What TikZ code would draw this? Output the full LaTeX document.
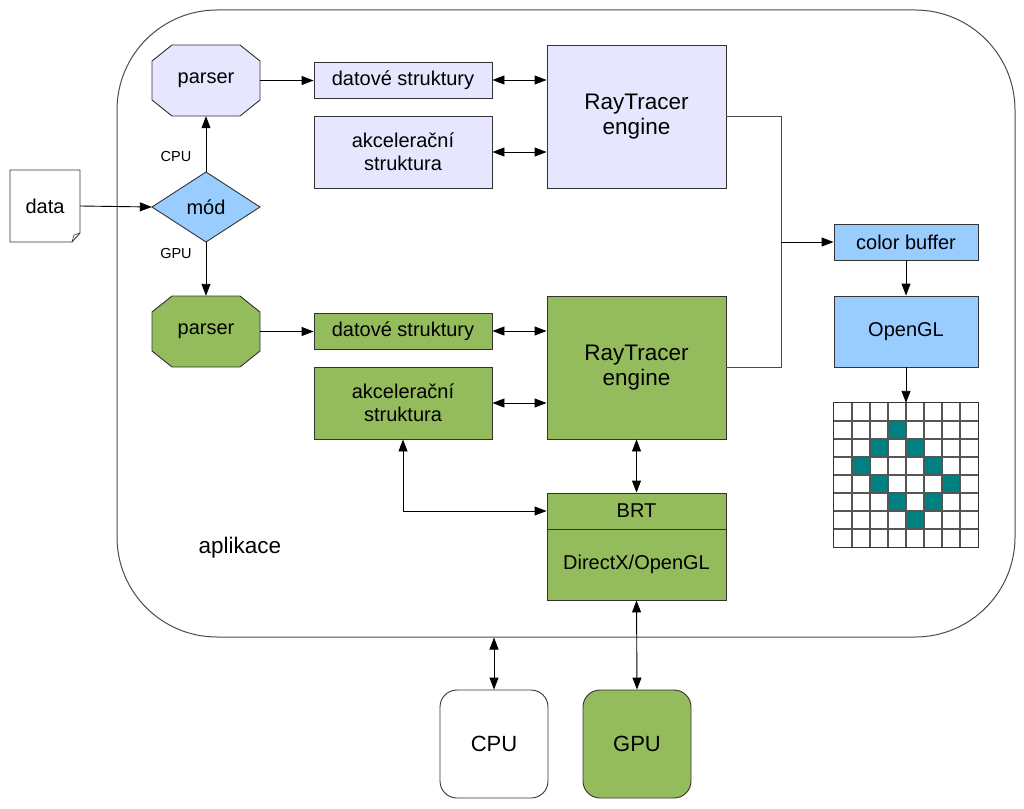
\documentclass[tikz,border=0pt]{standalone}
\usepackage{fontspec}
\setmainfont{Liberation Sans}
\usetikzlibrary{arrows.meta,calc}
\definecolor{lav}{HTML}{E6E6FF}
\definecolor{grn}{HTML}{94BC5C}
\definecolor{lblue}{HTML}{99CCFF}
\definecolor{tealc}{HTML}{008080}
\definecolor{edge}{HTML}{333333}
\definecolor{gline}{HTML}{555555}
\begin{document}
\begin{tikzpicture}[x=1pt,y=-1pt,
  box/.style={draw=edge, line width=0.9pt, inner sep=0pt, align=center, font=\fontsize{20}{23}\selectfont},
  bigbox/.style={box, font=\fontsize{22.5}{25}\selectfont},
  ghost/.style={inner sep=0pt, align=center, font=\fontsize{20}{23}\selectfont},
  shp/.style={draw=edge, line width=0.9pt},
  ln/.style={line width=0.9pt},
  arr/.style={line width=0.9pt, -{Triangle[length=12pt,width=9pt]}},
  darr/.style={line width=0.9pt, {Triangle[length=12pt,width=9pt]}-{Triangle[length=12pt,width=9pt]}},
  small/.style={inner sep=0pt, font=\fontsize{14.5}{16}\selectfont},
]
\useasboundingbox (0,0) rectangle (1024,808);
\fill[white] (0,0) rectangle (1024,808);

% application frame
\node[draw=black!70, line width=1pt, rounded corners=100pt, minimum width=898pt, minimum height=627pt, inner sep=0pt] (app) at (566,323.5) {};
\node[inner sep=0pt, font=\fontsize{22.5}{25}\selectfont] (apl) at (240,548) {aplikace};

% data document
\filldraw[shp, fill=white] (10,170) -- (80,170) -- (80,233) -- (72,242) -- (10,242) -- cycle;
\draw[shp, line width=0.6pt] (72,242) -- (74,235) -- (80,233);
\node[ghost, minimum width=70pt, minimum height=72pt] (data) at (45,206) {data};

% mod diamond
\filldraw[shp, fill=lblue] (206,172) -- (260,207) -- (206,242) -- (152,207) -- cycle;
\node[ghost, minimum width=108pt, minimum height=70pt] (mod) at (206,207) {mód};
\node[small] (lcpu) at (176,157) {CPU};
\node[small] (lgpu) at (176,254) {GPU};

% parsers (octagons)
\filldraw[shp, fill=lav] (172,45) -- (240,45) -- (260,61) -- (260,100) -- (240,116) -- (172,116) -- (152,100) -- (152,61) -- cycle;
\node[ghost, minimum width=108pt, minimum height=71pt] (p1) at (206,80.5) {parser};
\filldraw[shp, fill=grn] (172,296) -- (240,296) -- (260,312) -- (260,351) -- (240,367) -- (172,367) -- (152,351) -- (152,312) -- cycle;
\node[ghost, minimum width=108pt, minimum height=71pt] (p2) at (206,331.5) {parser};

% upper (CPU) branch
\node[box, fill=lav, minimum width=178pt, minimum height=36pt] (ds1) at (403,80) {datové struktury};
\node[box, fill=lav, minimum width=178pt, minimum height=72pt] (ak1) at (403,152) {akcelerační\\struktura};
\node[bigbox, fill=lav, minimum width=179pt, minimum height=143pt] (rt1) at (636.5,116.5) {RayTracer\\engine};

% lower (GPU) branch
\node[box, fill=grn, minimum width=178pt, minimum height=36pt] (ds2) at (403,331) {datové struktury};
\node[box, fill=grn, minimum width=178pt, minimum height=72pt] (ak2) at (403,403) {akcelerační\\struktura};
\node[bigbox, fill=grn, minimum width=179pt, minimum height=143pt] (rt2) at (636.5,367.5) {RayTracer\\engine};
\node[box, fill=grn, minimum width=179pt, minimum height=36pt] (brt) at (636.5,511) {BRT};
\node[box, fill=grn, minimum width=179pt, minimum height=71pt] (dx) at (636.5,564.5) {DirectX/OpenGL};

% output
\node[box, fill=lblue, minimum width=144pt, minimum height=36pt] (cb) at (906,242) {color buffer};
\node[box, fill=lblue, minimum width=144pt, minimum height=71pt] (ogl) at (906,331.5) {OpenGL};

% pixel grid
\node[inner sep=0pt, minimum size=144pt] (grid) at (906,475) {};
\foreach \c/\r in {3/1,2/2,4/2,1/3,5/3,2/4,6/4,3/5,5/5,4/6}
  \fill[tealc] ({834+18*\c},{403+18*\r}) rectangle ++(18,18);
\foreach \i in {1,...,7} {
  \draw[gline, line width=1.3pt] ({834+18*\i},403) -- ++(0,144);
  \draw[gline, line width=1.3pt] (834,{403+18*\i}) -- ++(144,0);
}
\draw[black!80, line width=1.3pt] (grid.north west) rectangle (grid.south east);

% CPU / GPU
\node[draw=edge, line width=0.9pt, fill=white, rounded corners=17pt, minimum size=108pt, inner sep=0pt, font=\fontsize{22}{25}\selectfont] (cpu) at (494,744) {CPU};
\node[draw=edge, line width=0.9pt, fill=grn, rounded corners=17pt, minimum size=108pt, inner sep=0pt, font=\fontsize{22}{25}\selectfont] (gpu) at (637,744) {GPU};

% connectors
\draw[arr] (data.east) -- (mod.west);
\draw[arr] (mod.north) -- (p1.south);
\draw[arr] (mod.south) -- (p2.north);
\draw[arr] (p1.east) -- (p1.east -| ds1.west);
\draw[arr] (p2.east) -- (p2.east -| ds2.west);
\draw[darr] (ds1.east) -- (ds1.east -| rt1.west);
\draw[darr] (ak1.east) -- (ak1.east -| rt1.west);
\draw[darr] (ds2.east) -- (ds2.east -| rt2.west);
\draw[darr] (ak2.east) -- (ak2.east -| rt2.west);
\coordinate (jx) at (781,242);
\draw[ln, black!70] (rt1.east) -| (jx);
\draw[ln, black!70] (rt2.east) -| (jx);
\draw[arr] (jx) -- (cb.west);
\draw[arr] (cb.south) -- (ogl.north);
\draw[arr] (ogl.south) -- (grid.north);
\draw[darr] (rt2.south) -- (brt.north);
\draw[darr] (ak2.south) |- (brt.west);
\draw[darr] (dx.south) -- (gpu.north);
\draw[darr] (cpu.north |- app.south) -- (cpu.north);
\end{tikzpicture}
\end{document}
